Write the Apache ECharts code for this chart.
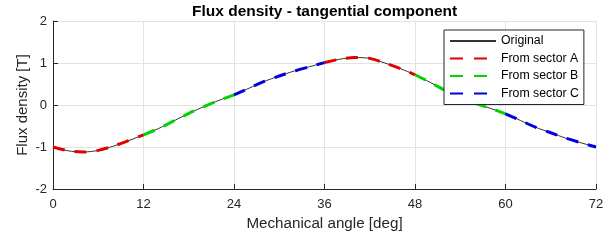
<!DOCTYPE html>
<html>
<head>
<meta charset="utf-8">
<script src="https://cdn.jsdelivr.net/npm/echarts@6/dist/echarts.min.js"></script>
<style>
  html, body { margin: 0; padding: 0; background: #fff; }
  #chart { width: 616px; height: 242px; }
</style>
</head>
<body>
<div id="chart"></div>
<script>
// mechanical angle [deg] and tangential flux density [T]
const angles = [0, 2, 4, 6, 8, 10, 12, 14, 16, 18, 20, 22, 24, 26, 28, 30, 32, 34, 36,
  38, 40, 42, 44, 46, 48, 50, 52, 54, 56, 58, 60, 62, 64, 66, 68, 70, 72]
const fluxT = [-1.00, -1.09, -1.12, -1.08, -0.98, -0.85, -0.71, -0.56, -0.38, -0.20,
  -0.04, 0.11, 0.24, 0.40, 0.56, 0.69, 0.81, 0.91, 1.01, 1.09, 1.13, 1.11, 1.00,
  0.87, 0.72, 0.54, 0.35, 0.19, 0.04, -0.08, -0.21, -0.37, -0.53, -0.66, -0.79,
  -0.90, -1.00]

// which sector each 12 deg stretch was taken from
const sectorBounds = [0, 12, 24, 36, 48, 60, 72]
const sectorOf = ['A', 'B', 'C', 'A', 'B', 'C']
const sectorColors = { A: '#e00000', B: '#00d400', C: '#0000e0' }

const xTicks = [0, 12, 24, 36, 48, 60, 72]

const font = 'Liberation Sans, Arial, Helvetica, sans-serif'
const textColor = '#262626'

const inSector = (a, s) => {
  for (let k = 0; k < sectorOf.length; k++) {
    if (sectorOf[k] === s && a >= sectorBounds[k] && a <= sectorBounds[k + 1]) return true
  }
  return false
}

const sectorSeries = ['A', 'B', 'C'].map(s => ({
  name: 'From sector ' + s,
  type: 'line',
  data: angles.map((a, i) => inSector(a, s) ? [a, fluxT[i]] : [a, null]),
  connectNulls: false,
  showSymbol: false,
  symbol: 'none',
  smooth: 0.3,
  lineStyle: { color: sectorColors[s], width: 3, type: [12, 10] },
  itemStyle: { color: sectorColors[s] },
  z: 3
}))

const chart = echarts.init(document.getElementById('chart'), null, { renderer: 'canvas' })

chart.setOption({
  animation: false,
  backgroundColor: '#fff',
  textStyle: { fontFamily: font },
  title: {
    text: 'Flux density - tangential component',
    left: 192,
    top: 4,
    padding: 0,
    textStyle: { fontFamily: font, fontSize: 15.5, fontWeight: 'bold', color: '#000' }
  },
  grid: { left: 53, right: 20, top: 21, bottom: 53, containLabel: false },
  legend: {
    orient: 'vertical',
    left: 444,
    top: 30,
    padding: [4, 5, 4, 5],
    itemWidth: 46,
    itemHeight: 12,
    itemGap: 3.5,
    backgroundColor: '#fff',
    borderColor: '#262626',
    borderWidth: 1,
    borderRadius: 0,
    itemStyle: { opacity: 0 },
    textStyle: { fontFamily: font, fontSize: 12.3, color: '#000', padding: [0, 0, 0, 0], lineHeight: 14 },
    data: [
      { name: 'Original' },
      { name: 'From sector A', lineStyle: { type: [13, 11] } },
      { name: 'From sector B', lineStyle: { type: [13, 11] } },
      { name: 'From sector C', lineStyle: { type: [13, 11] } }
    ]
  },
  xAxis: {
    type: 'value',
    min: 0,
    max: 72,
    interval: 12,
    name: 'Mechanical angle [deg]',
    nameLocation: 'middle',
    nameGap: 27.5,
    nameMoveOverlap: false,
    nameTextStyle: { fontFamily: font, fontSize: 15.2, color: textColor },
    axisLine: { show: true, onZero: false, lineStyle: { color: textColor, width: 1 } },
    axisTick: { show: true, inside: true, length: 5, lineStyle: { color: textColor } },
    axisLabel: {
      fontFamily: font, fontSize: 13, color: textColor, margin: 9,
      formatter: v => xTicks.includes(v) ? String(v) : ''
    },
    splitLine: { show: true, lineStyle: { color: '#e3e3e3', width: 1 } }
  },
  yAxis: {
    type: 'value',
    min: -2,
    max: 2,
    interval: 1,
    name: 'Flux density [T]',
    nameLocation: 'middle',
    nameGap: 22.5,
    nameMoveOverlap: false,
    nameTextStyle: { fontFamily: font, fontSize: 15, color: textColor },
    axisLine: { show: true, onZero: false, lineStyle: { color: textColor, width: 1 } },
    axisTick: { show: true, inside: true, length: 5, lineStyle: { color: textColor } },
    axisLabel: { fontFamily: font, fontSize: 13, color: textColor, margin: 6 },
    splitLine: { show: true, lineStyle: { color: '#e3e3e3', width: 1 } }
  },
  series: [
    {
      name: 'Original',
      type: 'line',
      data: angles.map((a, i) => [a, fluxT[i]]),
      showSymbol: false,
      symbol: 'none',
      smooth: 0.3,
      lineStyle: { color: '#333333', width: 1 },
      itemStyle: { color: '#333333' },
      z: 2
    },
    ...sectorSeries
  ]
})
</script>
</body>
</html>
